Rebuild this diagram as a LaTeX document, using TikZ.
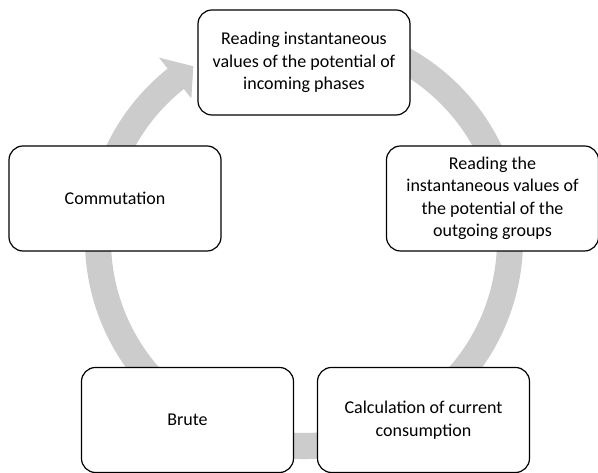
\documentclass[tikz,border=0pt]{standalone}
\usepackage{fontspec}
\setmainfont{Carlito}
\usetikzlibrary{calc}
\definecolor{ringgray}{RGB}{204,204,204}
\tikzset{
  cyclebox/.style={draw=black, line width=1.2pt, fill=white, rounded corners=14pt,
    minimum width=212pt, minimum height=105pt, align=center, inner sep=2pt,
    font=\fontsize{18pt}{22.5pt}\selectfont}
}
\begin{document}
\begin{tikzpicture}[x=1pt,y=1pt]
\useasboundingbox (0,0) rectangle (598,473);
\coordinate (C) at (304,233);
% ring with arrowhead
\fill[ringgray] ($(C)+(70:219pt)$) arc[start angle=70, end angle=-231.5, radius=219pt]
  -- ($(C)+(128.5:233pt)$) -- ($(C)+(122.5:206pt)$) -- ($(C)+(128.5:181pt)$)
  -- ($(C)+(128.5:193pt)$) arc[start angle=-231.5, end angle=70, radius=193pt] -- cycle;
% boxes
\node[cyclebox] (top) at (304,410.5) {Reading instantaneous\\values of the potential of\\incoming phases};
\node[cyclebox] (right) at (492.5,274.5) {Reading the\\instantaneous values of\\the potential of the\\outgoing groups};
\node[cyclebox] (calc) at (423.5,53) {Calculation of current\\consumption};
\node[cyclebox] (brute) at (187.5,53) {Brute};
\node[cyclebox] (left) at (115,274.5) {Commutation};
\end{tikzpicture}
\end{document}
